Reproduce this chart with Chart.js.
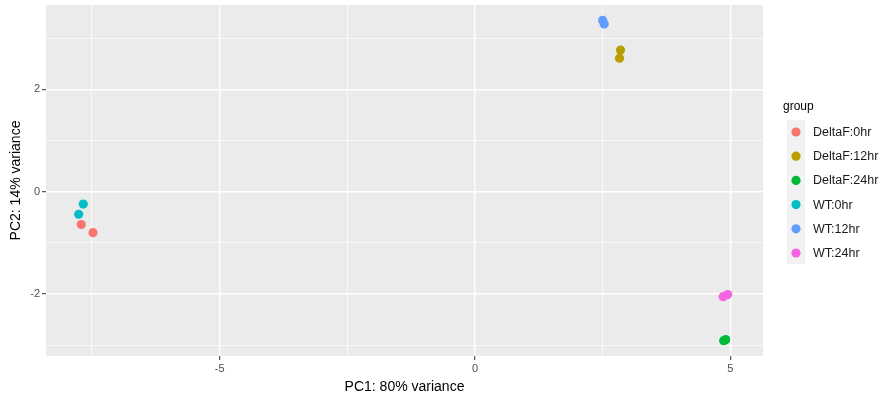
<!DOCTYPE html>
<html>
<head>
<meta charset="utf-8">
<script src="https://cdn.jsdelivr.net/npm/chart.js@4"></script>
<style>
  html, body { margin: 0; padding: 0; background: #fff; }
  #wrap { width: 884px; height: 402px; position: relative; }
</style>
</head>
<body>
<div id="wrap"><canvas id="pca"></canvas></div>
<script>
// PCA samples, two replicates per group
var groups = ["DeltaF:0hr", "DeltaF:12hr", "DeltaF:24hr", "WT:0hr", "WT:12hr", "WT:24hr"];
var colours = ["#F8766D", "#B79F00", "#00BA38", "#00BFC4", "#619CFF", "#F564E3"];
var pc1 = [[-7.71, -7.48], [2.85, 2.83], [4.87, 4.91], [-7.67, -7.76], [2.50, 2.53], [4.86, 4.95]];
var pc2 = [[-0.64, -0.80], [2.77, 2.61], [-2.91, -2.89], [-0.24, -0.44], [3.35, 3.28], [-2.05, -2.01]];
var xTicks = [-7.5, -5, -2.5, 0, 2.5, 5];
var yTicks = [-3, -2, -1, 0, 1, 2, 3];
var xLabels = [-5, 0, 5];
var yLabels = [-2, 0, 2];

var datasets = groups.map(function (g, i) {
  return {
    label: g,
    data: pc1[i].map(function (x, j) { return { x: x, y: pc2[i][j] }; }),
    backgroundColor: colours[i],
    borderColor: colours[i],
    pointRadius: 4.6,
    pointHoverRadius: 4.6,
    borderWidth: 0
  };
});

function isMajor(v, list) { return list.indexOf(v) !== -1; }

// grey panel like ggplot
var panelBg = {
  id: "panelBg",
  beforeDraw: function (chart) {
    var a = chart.chartArea, c = chart.ctx;
    c.save();
    c.fillStyle = "#EBEBEB";
    c.fillRect(a.left, a.top, a.right - a.left, a.bottom - a.top);
    c.restore();
  }
};

// legend drawn by hand on the right
var sideLegend = {
  id: "sideLegend",
  afterDraw: function (chart) {
    var c = chart.ctx;
    c.save();
    c.fillStyle = "#000";
    c.font = "12px 'Liberation Sans', Arial, sans-serif";
    c.textBaseline = "middle";
    c.fillText("group", 783, 107);
    c.fillStyle = "#F2F2F2";
    c.fillRect(787, 120, 18, 144);
    groups.forEach(function (g, i) {
      var y = 132 + i * 24.2;
      c.fillStyle = colours[i];
      c.beginPath();
      c.arc(796, y, 4.6, 0, Math.PI * 2);
      c.fill();
      c.fillStyle = "#1a1a1a";
      c.font = "12.5px 'Liberation Sans', Arial, sans-serif";
      c.fillText(g, 813, y + 0.5);
    });
    c.restore();
  }
};

var ctx = document.getElementById("pca").getContext("2d");
var pcaChart = new Chart(ctx, {
  type: "scatter",
  data: { datasets: datasets },
  options: {
    responsive: true,
    maintainAspectRatio: false,
    animation: false,
    layout: { padding: { left: 0, top: 5, right: 121, bottom: 0 } },
    plugins: { legend: { display: false }, tooltip: { enabled: false } },
    scales: {
      x: {
        type: "linear",
        min: -8.4,
        max: 5.64,
        afterBuildTicks: function (scale) {
          scale.ticks = xTicks.map(function (v) { return { value: v }; });
        },
        afterFit: function (scale) {
          scale.height = 46;
          scale.paddingLeft = 0;
          scale.paddingRight = 0;
        },
        border: { display: false },
        grid: {
          color: "#FFFFFF",
          lineWidth: function (c) { return isMajor(c.tick.value, xLabels) ? 1.4 : 0.7; },
          tickColor: function (c) { return isMajor(c.tick.value, xLabels) ? "#333333" : "rgba(0,0,0,0)"; },
          tickLength: 4,
          tickWidth: 1
        },
        ticks: {
          autoSkip: false,
          maxRotation: 0,
          padding: 2,
          color: "#4D4D4D",
          font: { family: "'Liberation Sans', Arial, sans-serif", size: 11 },
          callback: function (v) { return isMajor(v, xLabels) ? String(v) : ""; }
        },
        title: {
          display: true,
          text: "PC1: 80% variance",
          color: "#000",
          font: { family: "'Liberation Sans', Arial, sans-serif", size: 14 },
          padding: { top: 0, bottom: 6 }
        }
      },
      y: {
        type: "linear",
        min: -3.21,
        max: 3.65,
        afterBuildTicks: function (scale) {
          scale.ticks = yTicks.map(function (v) { return { value: v }; });
        },
        afterFit: function (scale) {
          scale.width = 46;
          scale.paddingTop = 0;
          scale.paddingBottom = 0;
        },
        border: { display: false },
        grid: {
          color: "#FFFFFF",
          lineWidth: function (c) { return isMajor(c.tick.value, yLabels) ? 1.4 : 0.7; },
          tickColor: function (c) { return isMajor(c.tick.value, yLabels) ? "#333333" : "rgba(0,0,0,0)"; },
          tickLength: 4,
          tickWidth: 1
        },
        ticks: {
          autoSkip: false,
          padding: 2,
          color: "#4D4D4D",
          font: { family: "'Liberation Sans', Arial, sans-serif", size: 11 },
          callback: function (v) { return isMajor(v, yLabels) ? String(v) : ""; }
        },
        title: {
          display: true,
          text: "PC2: 14% variance",
          color: "#000",
          font: { family: "'Liberation Sans', Arial, sans-serif", size: 14 },
          padding: { top: 8, bottom: 0 }
        }
      }
    }
  },
  plugins: [panelBg, sideLegend]
});
</script>
</body>
</html>
